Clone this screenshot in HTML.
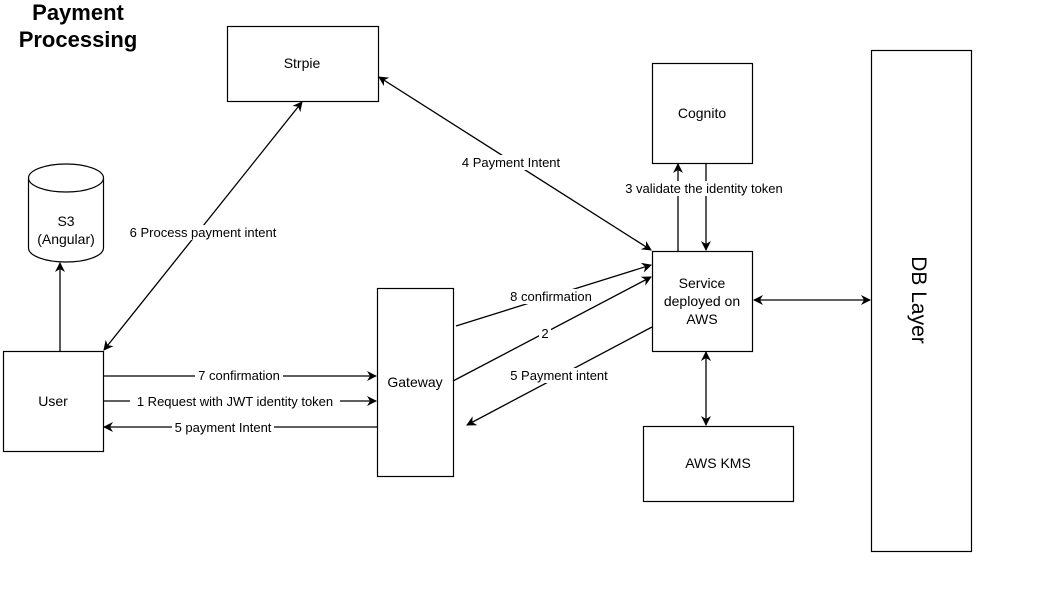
<!DOCTYPE html>
<html><head><style>
html,body{margin:0;padding:0;background:#fff;}
svg{display:block;font-family:"Liberation Sans",Arial,sans-serif;}
</style></head><body>
<svg width="1041" height="593" viewBox="0 0 1041 593" xmlns="http://www.w3.org/2000/svg">
<defs>
<marker id="a" viewBox="0 0 10 10" refX="9" refY="5" markerWidth="10" markerHeight="10" markerUnits="userSpaceOnUse" orient="auto-start-reverse">
<path d="M0,0 L10,5 L0,10 L3,5 Z" fill="#000"/></marker>
</defs>
<rect x="0" y="0" width="1041" height="593" fill="#fff"/>
<text x="78" y="20" font-size="22" font-weight="bold" text-anchor="middle">Payment</text>
<text x="78" y="47" font-size="22" font-weight="bold" text-anchor="middle">Processing</text>
<g fill="#fff" stroke="#000" stroke-width="1.2">
<rect x="227.5" y="26.5" width="151" height="75"/>
<rect x="652.5" y="63.5" width="100" height="100"/>
<rect x="652.5" y="251.5" width="100" height="100"/>
<rect x="871.5" y="50.5" width="100" height="501"/>
<rect x="643.5" y="426.5" width="150" height="75"/>
<rect x="377.5" y="288.5" width="76" height="188"/>
<rect x="3.5" y="351.5" width="100" height="100"/>
<path d="M28.5,178 L28.5,248 A37.5,14 0 0 0 103.5,248 L103.5,178 A37.5,14 0 0 0 28.5,178 A37.5,14 0 0 0 103.5,178"/>
</g>
<g font-size="14" text-anchor="middle">
<text x="302" y="68">Strpie</text>
<text x="702" y="118">Cognito</text>
<text x="702" y="288">Service</text>
<text x="702" y="306">deployed on</text>
<text x="702" y="324">AWS</text>
<text x="718" y="468">AWS KMS</text>
<text x="415" y="387">Gateway</text>
<text x="53" y="406">User</text>
<text x="66" y="226">S3</text>
<text x="66" y="244">(Angular)</text>
<text transform="translate(912,300) rotate(90)" font-size="21">DB Layer</text>
</g>
<g stroke="#000" stroke-width="1.3" fill="none">
<line x1="60" y1="351" x2="60" y2="263" marker-end="url(#a)"/>
<line x1="103" y1="376" x2="376" y2="376" marker-end="url(#a)"/>
<line x1="103" y1="401" x2="376" y2="401" marker-end="url(#a)"/>
<line x1="377" y1="427" x2="104" y2="427" marker-end="url(#a)"/>
<line x1="104" y1="350" x2="302" y2="102" marker-start="url(#a)" marker-end="url(#a)"/>
<line x1="379" y1="77" x2="651" y2="250" marker-start="url(#a)" marker-end="url(#a)"/>
<line x1="456" y1="326" x2="651" y2="265" marker-end="url(#a)"/>
<line x1="453" y1="381" x2="651" y2="277" marker-end="url(#a)"/>
<line x1="652" y1="327" x2="467" y2="425" marker-end="url(#a)"/>
<line x1="678" y1="251" x2="678" y2="164" marker-end="url(#a)"/>
<line x1="706" y1="163" x2="706" y2="250" marker-end="url(#a)"/>
<line x1="754" y1="300" x2="870" y2="300" marker-start="url(#a)" marker-end="url(#a)"/>
<line x1="706" y1="352" x2="706" y2="425" marker-start="url(#a)" marker-end="url(#a)"/>
</g>
<g font-size="13" text-anchor="middle">
<g fill="#fff">
<rect x="195" y="368" width="88" height="15"/>
<rect x="130" y="394" width="210" height="15"/>
<rect x="172" y="420" width="102" height="15"/>
<rect x="125" y="225" width="156" height="15"/>
<rect x="458" y="155" width="106" height="15"/>
<rect x="507" y="289" width="88" height="15"/>
<rect x="539" y="326" width="12" height="15"/>
<rect x="505" y="368" width="108" height="15"/>
<rect x="620" y="181" width="168" height="15"/>
</g>
<text x="239" y="380">7 confirmation</text>
<text x="235" y="406">1 Request with JWT identity token</text>
<text x="223" y="432">5 payment Intent</text>
<text x="203" y="237">6 Process payment intent</text>
<text x="511" y="167">4 Payment Intent</text>
<text x="551" y="301">8 confirmation</text>
<text x="545" y="338">2</text>
<text x="559" y="380">5 Payment intent</text>
<text x="704" y="193">3 validate the identity token</text>
</g>
</svg>
</body></html>
